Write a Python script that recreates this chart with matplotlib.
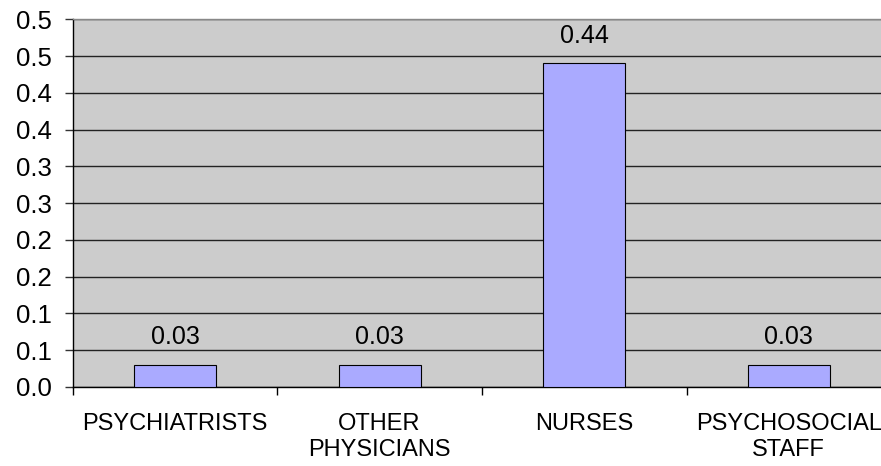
import matplotlib.pyplot as plt
from matplotlib.ticker import FixedLocator

plt.rcParams['font.family'] = ['Liberation Sans', 'DejaVu Sans']

# data
categories = ['PSYCHIATRISTS', 'OTHER\nPHYSICIANS', 'NURSES', 'PSYCHOSOCIAL\nSTAFF']
values = [0.03, 0.03, 0.44, 0.03]
yticks = [0.0, 0.05, 0.1, 0.15, 0.2, 0.25, 0.3, 0.35, 0.4, 0.45, 0.5]
ytick_labels = ['0.0', '0.1', '0.1', '0.2', '0.2', '0.3', '0.3', '0.4', '0.4', '0.5', '0.5']

fig = plt.figure(figsize=(8.81, 4.66), dpi=100)
# plot area runs past the right edge of the picture, like the original
ax = fig.add_axes([0.0825, 0.170, 0.929, 0.7886])
ax.set_facecolor('#CCCCCC')

x = list(range(len(categories)))
ax.bar(x, values, width=0.4, color='#AAAAFF', edgecolor='black', linewidth=0.8, zorder=3)

# value labels above the bars
for i, v in enumerate(values):
    ax.annotate(f'{v:.2f}', (i, v), xytext=(0, 20), textcoords='offset points',
                ha='center', va='center', fontsize=18)

ax.set_xlim(-0.5, len(categories) - 0.5)
ax.set_ylim(0, 0.5)

ax.set_yticks(yticks)
ax.set_yticklabels(ytick_labels, fontsize=18.5)
ax.yaxis.grid(True, color='#222222', linewidth=1.0, zorder=0)
ax.set_axisbelow(True)

ax.set_xticks(x)
ax.set_xticklabels(categories, fontsize=17, linespacing=1.25)
ax.xaxis.set_minor_locator(FixedLocator([i - 0.5 for i in range(len(categories) + 1)]))
ax.tick_params(axis='x', which='major', length=0, pad=19)
ax.tick_params(axis='x', which='minor', length=5.5, width=1, color='black', direction='out')
ax.tick_params(axis='y', length=5.5, width=1, pad=9.5, direction='out', color='#333333')

ax.spines['left'].set_color('black')
ax.spines['bottom'].set_color('black')
ax.spines['top'].set_color('#888888')
ax.spines['right'].set_visible(False)
for s in ax.spines.values():
    s.set_linewidth(1.0)

fig.savefig('out.png', dpi=100)
